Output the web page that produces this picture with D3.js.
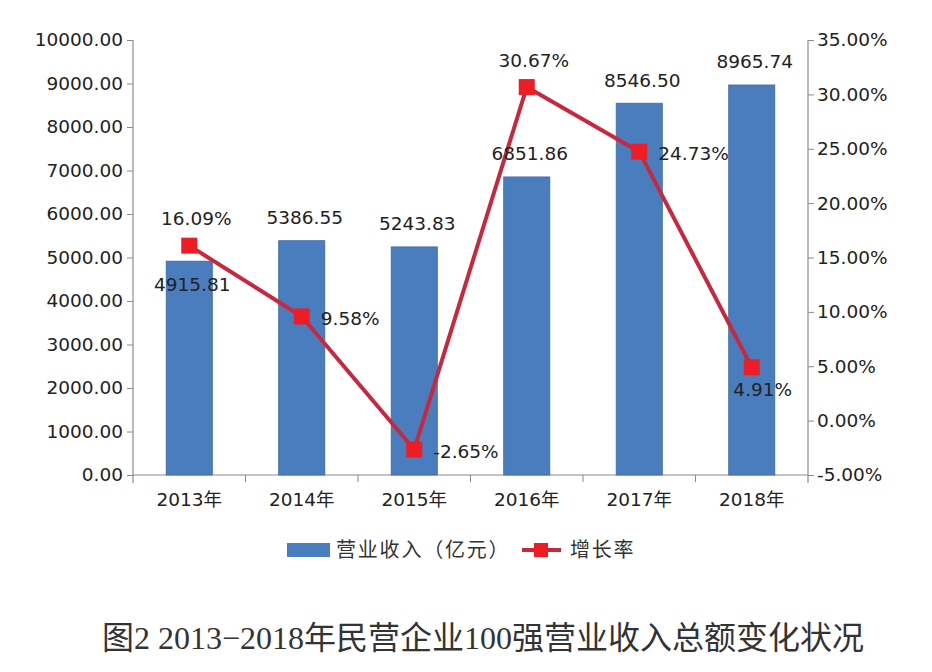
<!DOCTYPE html>
<html>
<head>
<meta charset="utf-8">
<script src="https://cdn.jsdelivr.net/npm/d3@7"></script>
<style>
  html, body { margin: 0; padding: 0; background: #ffffff; }
  svg { display: block; }
</style>
</head>
<body>
<svg id="chart" width="932" height="672"></svg>
<script>
// ---- data ----
const years = ["2013年", "2014年", "2015年", "2016年", "2017年", "2018年"];
const revenue = [4915.81, 5386.55, 5243.83, 6851.86, 8546.50, 8965.74];
const growth = [16.09, 9.58, -2.65, 30.67, 24.73, 4.91];
const leftTicks = [0, 1000, 2000, 3000, 4000, 5000, 6000, 7000, 8000, 9000, 10000];
const rightTicks = [-5, 0, 5, 10, 15, 20, 25, 30, 35];
const revenueLabelPos = ["below", "above", "above", "above", "above", "above"];
const growthLabelPos = ["above", "right", "right", "above", "right", "below"];
const legendNames = ["营业收入（亿元）", "增长率"];
const titleText = "图2 2013−2018年民营企业100强营业收入总额变化状况";

(function () {
// ---- layout ----
const pLeft = 133, pRight = 808, pTop = 40, pBottom = 475;
const svg = d3.select("#chart");
const numFont = "'DejaVu Sans', Verdana, sans-serif";
const cjkFont = "'DejaVu Sans', 'Noto Sans CJK SC', sans-serif";
const axisColor = "#8a8a8a";
const textColor = "#222";
const barColor = "#4a7dbd";
const lineColor = "#c8283e";
const markerColor = "#ee1c24";
const fs = 18.5;
const fmt2 = v => d3.format(".2f")(v).replace("\u2212", "-");
const pct = v => fmt2(v) + "%";

const x = d3.scaleBand().domain(years).range([pLeft, pRight]).paddingInner(0.59).paddingOuter(0.295);
const yL = d3.scaleLinear().domain([0, 10000]).range([pBottom, pTop]);
const yR = d3.scaleLinear().domain([-5, 35]).range([pBottom, pTop]);

// left axis
const gL = svg.append("g").attr("transform", `translate(${pLeft},0)`)
  .call(d3.axisLeft(yL).tickValues(leftTicks).tickFormat(fmt2).tickSize(6).tickSizeOuter(0));
gL.select(".domain").attr("stroke", axisColor).attr("stroke-width", 1.2).attr("d", `M0,${pTop}V${pBottom + 8}`);
gL.selectAll(".tick line").attr("stroke", axisColor);
gL.selectAll(".tick text").attr("font-family", numFont).attr("font-size", fs).attr("fill", textColor).attr("x", -10);

// right axis
const gR = svg.append("g").attr("transform", `translate(${pRight},0)`)
  .call(d3.axisRight(yR).tickValues(rightTicks).tickFormat(pct).tickSize(6).tickSizeOuter(0));
gR.select(".domain").attr("stroke", axisColor).attr("stroke-width", 1.2).attr("d", `M0,${pTop}V${pBottom + 8}`);
gR.selectAll(".tick line").attr("stroke", axisColor);
gR.selectAll(".tick text").attr("font-family", numFont).attr("font-size", fs).attr("fill", textColor).attr("x", 9);

// x axis
const gX = svg.append("g").attr("transform", `translate(0,${pBottom})`)
  .call(d3.axisBottom(x).tickSize(0).tickPadding(18));
gX.select(".domain").attr("stroke", axisColor).attr("stroke-width", 1.2).attr("d", `M${pLeft},0H${pRight}`);
gX.selectAll(".tick text").attr("font-family", cjkFont).attr("font-size", fs).attr("fill", textColor);
const step = x.step();
gX.selectAll(".sep").data(years.slice(1)).join("line")
  .attr("x1", d => x(d) - (step - x.bandwidth()) / 2).attr("x2", d => x(d) - (step - x.bandwidth()) / 2)
  .attr("y1", 0).attr("y2", 7).attr("stroke", axisColor);

// bars
svg.append("g").selectAll("rect").data(revenue).join("rect")
  .attr("x", (d, i) => x(years[i]))
  .attr("y", d => yL(d))
  .attr("width", x.bandwidth())
  .attr("height", d => yL(0) - yL(d))
  .attr("fill", barColor).attr("stroke", "#3c6aa6").attr("stroke-width", 0.8);

// line
const line = d3.line().x((d, i) => x(years[i]) + x.bandwidth() / 2).y(d => yR(d));
svg.append("path").datum(growth).attr("d", line)
  .attr("fill", "none").attr("stroke", lineColor).attr("stroke-width", 4).attr("stroke-linejoin", "round");
svg.append("g").selectAll("rect").data(growth).join("rect")
  .attr("x", (d, i) => x(years[i]) + x.bandwidth() / 2 - 8)
  .attr("y", d => yR(d) - 8)
  .attr("width", 16).attr("height", 16).attr("fill", markerColor);

// revenue labels
svg.append("g").selectAll("text").data(revenue).join("text")
  .attr("x", (d, i) => x(years[i]) + x.bandwidth() / 2 + 3)
  .attr("y", (d, i) => revenueLabelPos[i] === "below" ? yL(d) + 23 : yL(d) - 23)
  .attr("dy", "0.35em")
  .attr("text-anchor", "middle")
  .attr("font-family", numFont).attr("font-size", fs).attr("fill", textColor)
  .text(fmt2);

// growth labels
svg.append("g").selectAll("text").data(growth).join("text")
  .attr("x", (d, i) => {
    const cx = x(years[i]) + x.bandwidth() / 2;
    if (growthLabelPos[i] === "right") return cx + 19;
    if (growthLabelPos[i] === "below") return cx + 11;
    return cx + 7;
  })
  .attr("y", (d, i) => {
    const cy = yR(d);
    if (growthLabelPos[i] === "above") return cy - 27;
    if (growthLabelPos[i] === "below") return cy + 22;
    return cy + 2;
  })
  .attr("dy", "0.35em")
  .attr("text-anchor", (d, i) => growthLabelPos[i] === "right" ? "start" : "middle")
  .attr("font-family", numFont).attr("font-size", fs).attr("fill", textColor)
  .text(pct);

// legend
const lg = svg.append("g");
lg.append("rect").attr("x", 287).attr("y", 543).attr("width", 43).attr("height", 14).attr("fill", barColor);
lg.append("text").attr("x", 336).attr("y", 550).attr("dy", "0.35em")
  .attr("font-family", "'Noto Sans CJK SC', sans-serif").attr("font-size", 20).attr("letter-spacing", 1.8)
  .attr("fill", "#333").text(legendNames[0]);
lg.append("line").attr("x1", 522).attr("x2", 561).attr("y1", 550).attr("y2", 550)
  .attr("stroke", lineColor).attr("stroke-width", 4);
lg.append("rect").attr("x", 534).attr("y", 543).attr("width", 14).attr("height", 14).attr("fill", markerColor);
lg.append("text").attr("x", 570).attr("y", 550).attr("dy", "0.35em")
  .attr("font-family", "'Noto Sans CJK SC', sans-serif").attr("font-size", 20).attr("letter-spacing", 1.8)
  .attr("fill", "#333").text(legendNames[1]);

// title
svg.append("text").attr("x", 483).attr("y", 638).attr("dy", "0.35em").attr("text-anchor", "middle")
  .attr("font-family", "'Liberation Serif', 'Noto Sans CJK SC', serif").attr("font-size", 32)
  .attr("fill", "#333").text(titleText);
})();
</script>
</body>
</html>
